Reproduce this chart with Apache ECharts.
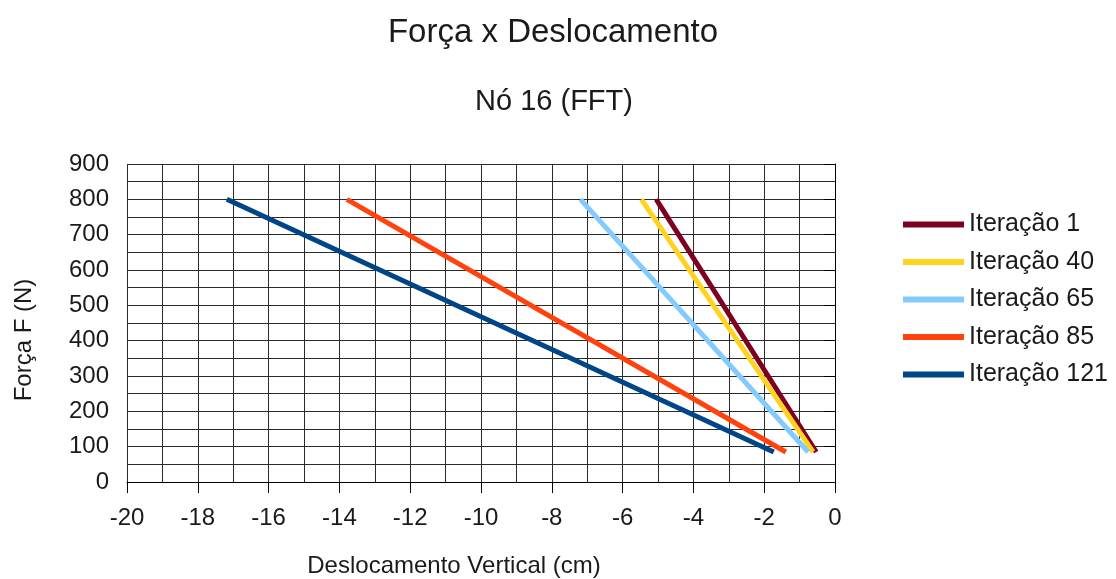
<!DOCTYPE html>
<html>
<head>
<meta charset="utf-8">
<script src="https://cdn.jsdelivr.net/npm/echarts@6/dist/echarts.min.js"></script>
<style>
  html, body { margin: 0; padding: 0; background: #fff; }
  #chart { width: 1116px; height: 579px; }
</style>
</head>
<body>
<div id="chart"></div>
<script>
// Force vs. vertical displacement at node 16, one line per iteration
const seriesNames = ['Iteração 1', 'Iteração 40', 'Iteração 65', 'Iteração 85', 'Iteração 121'];
const seriesColors = ['#7e0021', '#ffd320', '#83caff', '#ff420e', '#004586'];
const forceN = [800, 85];
const displacementIter1 = [-5.05, -0.53];
const displacementIter40 = [-5.47, -0.62];
const displacementIter65 = [-7.19, -0.76];
const displacementIter85 = [-13.79, -1.39];
const displacementIter121 = [-17.18, -1.73];
const displacements = [displacementIter1, displacementIter40, displacementIter65, displacementIter85, displacementIter121];

const FONT = '"Liberation Sans", Arial, sans-serif';
const TEXT = '#1a1a1a';
const GRID = '#2a2a2a';

const chart = echarts.init(document.getElementById('chart'), null, { renderer: 'canvas' });

const series = seriesNames.map((name, i) => ({
  name: name,
  type: 'line',
  symbol: 'none',
  lineStyle: { width: 5, color: seriesColors[i], cap: 'butt' },
  itemStyle: { color: seriesColors[i] },
  data: displacements[i].map((x, k) => [x, forceN[k]]),
  z: 3 + i
}));

chart.setOption({
  backgroundColor: '#ffffff',
  animation: false,
  title: [
    { text: 'Força x Deslocamento', left: 548, top: 11, textAlign: 'center',
      textStyle: { fontFamily: FONT, fontSize: 33, fontWeight: 'normal', color: TEXT } },
    { text: 'Nó 16 (FFT)', left: 549, top: 82, textAlign: 'center',
      textStyle: { fontFamily: FONT, fontSize: 29, fontWeight: 'normal', color: TEXT } }
  ],
  legend: {
    orient: 'vertical',
    left: 898,
    top: 207,
    icon: 'rect',
    itemWidth: 61,
    itemHeight: 6,
    itemGap: 12.5,
    data: seriesNames,
    textStyle: { fontFamily: FONT, fontSize: 25, color: TEXT, lineHeight: 25 }
  },
  graphic: [
    { type: 'text', x: 454, y: 566, silent: true,
      style: { text: 'Deslocamento Vertical (cm)', font: '24px ' + FONT, fill: TEXT,
               align: 'center', verticalAlign: 'middle' } },
    { type: 'text', x: 24, y: 340, rotation: Math.PI / 2, silent: true,
      style: { text: 'Força F (N)', font: '24px ' + FONT, fill: TEXT,
               align: 'center', verticalAlign: 'middle' } }
  ],
  grid: { left: 127, right: 281, top: 164, bottom: 97, containLabel: false },
  xAxis: {
    type: 'value',
    min: -20, max: 0, interval: 2,
    axisLine: { show: true, lineStyle: { color: '#000', width: 1 } },
    axisTick: { show: true, length: 11, lineStyle: { color: '#000' } },
    axisLabel: { fontFamily: FONT, fontSize: 24, color: TEXT, margin: 24 },
    splitLine: { show: true, lineStyle: { color: GRID, width: 1 } },
    minorTick: { show: false, splitNumber: 2 },
    minorSplitLine: { show: true, lineStyle: { color: GRID, width: 1 } }
  },
  yAxis: {
    type: 'value',
    min: 0, max: 900, interval: 100,
    axisLine: { show: true, lineStyle: { color: '#000', width: 1 } },
    axisTick: { show: true, length: 11, lineStyle: { color: '#000' } },
    axisLabel: { fontFamily: FONT, fontSize: 24, color: TEXT, margin: 18 },
    splitLine: { show: true, lineStyle: { color: GRID, width: 1 } },
    minorTick: { show: false, splitNumber: 2 },
    minorSplitLine: { show: true, lineStyle: { color: GRID, width: 1 } }
  },
  series: series
});
</script>
</body>
</html>
